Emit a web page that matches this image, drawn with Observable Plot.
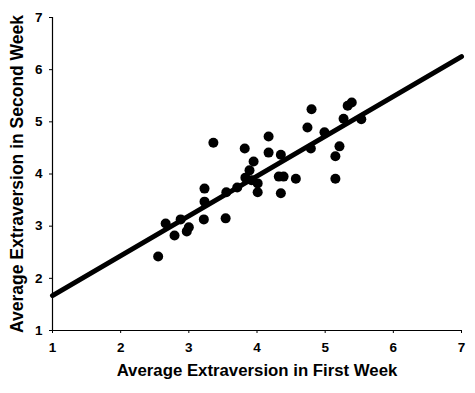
<!DOCTYPE html>
<html>
<head>
<meta charset="utf-8">
<script src="https://cdn.jsdelivr.net/npm/d3@7"></script>
<script src="https://cdn.jsdelivr.net/npm/@observablehq/plot@0.6"></script>
<style>
  html, body { margin: 0; padding: 0; background: #fff; }
  #chart svg { display: block; }
  #chart svg g[aria-label="x-axis tick label"] text,
  #chart svg g[aria-label="y-axis tick label"] text { font-size: 13.5px; }
  #chart svg g[aria-label="x-axis label"] text { font-size: 16.8px; }
  #chart svg g[aria-label="y-axis label"] text { font-size: 17.5px; }
</style>
</head>
<body>
<div id="chart"></div>
<script>
const firstWeek = [2.55, 2.66, 2.88, 2.79, 3.00, 2.97, 3.22, 3.54, 3.23, 3.23, 3.55, 3.36,
  3.71, 3.82, 4.17, 4.17, 3.95, 4.35, 3.89, 3.83, 3.92, 4.01, 4.01, 4.32, 4.39, 4.35, 4.57,
  4.80, 5.33, 5.39, 5.27, 5.53, 4.74, 4.99, 4.79, 5.21, 5.15, 5.15];
const secondWeek = [2.42, 3.05, 3.13, 2.82, 2.98, 2.90, 3.13, 3.15, 3.72, 3.47, 3.65, 4.60,
  3.74, 4.49, 4.41, 4.72, 4.24, 4.37, 4.07, 3.93, 3.88, 3.82, 3.65, 3.95, 3.95, 3.63, 3.91,
  5.24, 5.31, 5.37, 5.06, 5.05, 4.89, 4.80, 4.49, 4.53, 4.34, 3.91];
const fitX = [1, 7];
const fitY = [1.67, 6.25];
const ticks = [1, 2, 3, 4, 5, 6, 7];

const points = firstWeek.map((x, i) => ({x, y: secondWeek[i]}));
const fit = fitX.map((x, i) => ({x, y: fitY[i]}));

const chart = Plot.plot({
  width: 475,
  height: 393,
  marginLeft: 52,
  marginRight: 14,
  marginTop: 17,
  marginBottom: 63,
  style: {fontFamily: "'Liberation Sans', Arial, sans-serif", fontWeight: "bold", fontSize: "13.5px", color: "#000", background: "#fff"},
  x: {domain: [1, 7]},
  y: {domain: [1, 7]},
  marks: [
    Plot.axisX({ticks, tickSize: 3, tickPadding: 9, tickFormat: d3.format("d"),
      label: "Average Extraversion in First Week", labelAnchor: "center", labelArrow: "none", labelOffset: 45}),
    Plot.axisY({ticks, tickSize: 3, tickPadding: 7, tickFormat: d3.format("d"),
      label: "Average Extraversion in Second Week", labelAnchor: "center", labelArrow: "none", labelOffset: 42}),
    Plot.ruleX([1], {stroke: "#000", strokeWidth: 1.2}),
    Plot.ruleY([1], {stroke: "#000", strokeWidth: 1.2}),
    Plot.line(fit, {x: "x", y: "y", stroke: "#000", strokeWidth: 5}),
    Plot.dot(points, {x: "x", y: "y", r: 5, fill: "#000", stroke: "none"})
  ]
});
document.getElementById("chart").appendChild(chart);
</script>
</body>
</html>
